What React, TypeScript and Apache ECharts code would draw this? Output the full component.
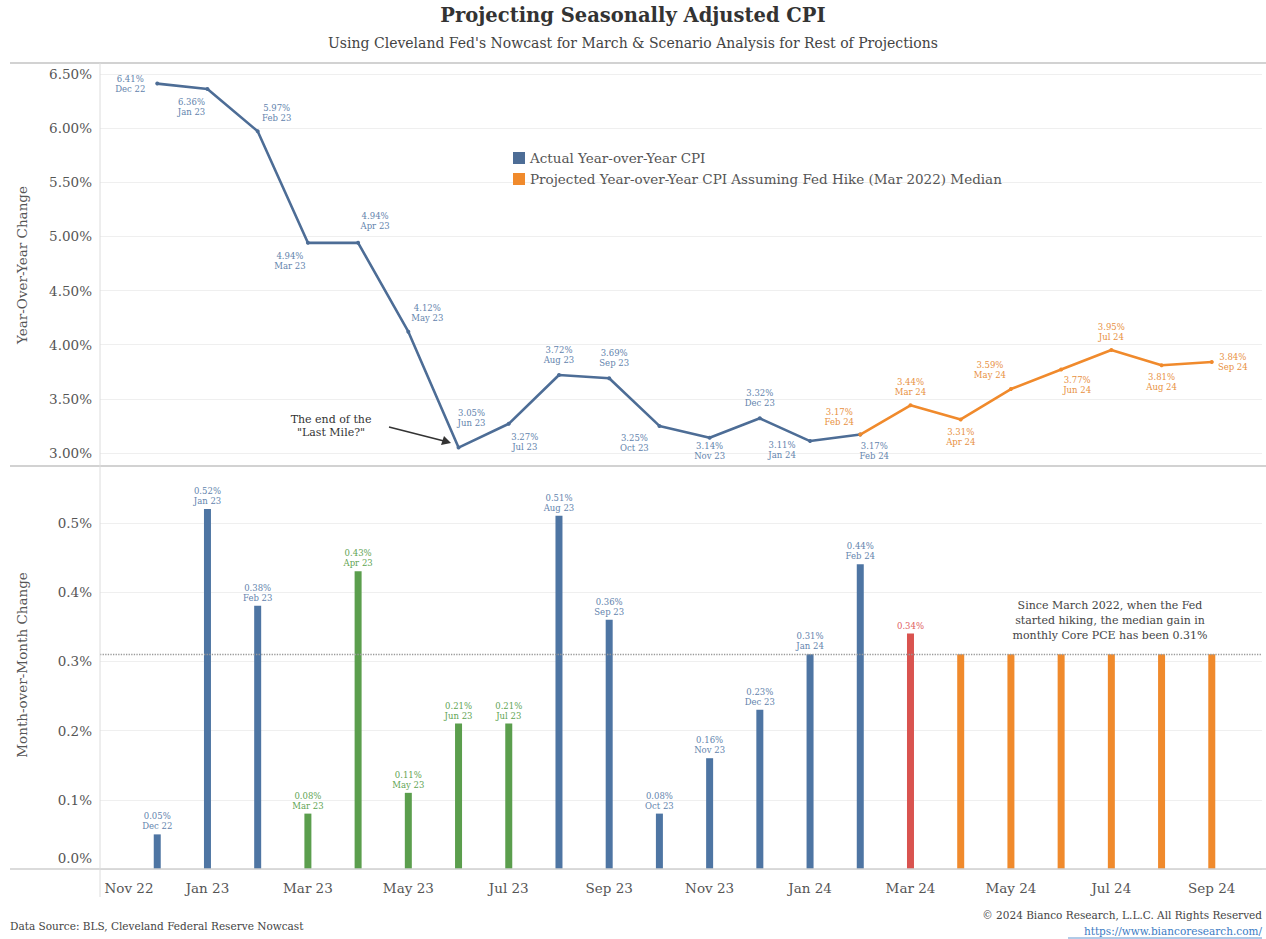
import React, { useEffect, useRef } from "react";
import * as echarts from "echarts";

// ---------- data ----------
// month index 0 = Nov 22 ... 22 = Sep 24
const months = [
  "Nov 22", "Dec 22", "Jan 23", "Feb 23", "Mar 23", "Apr 23", "May 23", "Jun 23",
  "Jul 23", "Aug 23", "Sep 23", "Oct 23", "Nov 23", "Dec 23", "Jan 24", "Feb 24",
  "Mar 24", "Apr 24", "May 24", "Jun 24", "Jul 24", "Aug 24", "Sep 24",
];
const axisTickMonths = [0, 2, 4, 6, 8, 10, 12, 14, 16, 18, 20, 22];

// Year-over-year CPI, actual: Dec 22 .. Feb 24
const yoyActualStart = 1;
const yoyActual = [6.41, 6.36, 5.97, 4.94, 4.94, 4.12, 3.05, 3.27, 3.72, 3.69, 3.25, 3.14, 3.32, 3.11, 3.17];
// Year-over-year CPI, projected: Feb 24 .. Sep 24
const yoyProjectedStart = 15;
const yoyProjected = [3.17, 3.44, 3.31, 3.59, 3.77, 3.95, 3.81, 3.84];

// Month-over-month change: Dec 22 .. Sep 24
const momStart = 1;
const momValues = [
  0.05, 0.52, 0.38, 0.08, 0.43, 0.11, 0.21, 0.21, 0.51, 0.36, 0.08, 0.16, 0.23, 0.31, 0.44,
  0.34, 0.31, 0.31, 0.31, 0.31, 0.31, 0.31,
];
const momKind = [
  "actual", "actual", "actual", "green", "green", "green", "green", "green", "actual", "actual",
  "actual", "actual", "actual", "actual", "actual", "nowcast", "projected", "projected",
  "projected", "projected", "projected", "projected",
];
const momMedian = 0.31;

// ---------- styling ----------
const FONT = "DejaVu Serif";
const BLUE_LINE = "#4d6d96";
const BLUE_LABEL = "#6384ad";
const ORANGE = "#f08a2c";
const ORANGE_LABEL = "#e8913f";
const kindColor: Record<string, string> = {
  actual: "#4e75a3",
  green: "#5b9e4d",
  nowcast: "#d9534f",
  projected: "#f08a2c",
};
const kindLabelColor: Record<string, string> = {
  actual: "#6384ad",
  green: "#62a453",
  nowcast: "#e06060",
  projected: "#f08a2c",
};
// label offsets (pixels) relative to each point
const yoyActualLabelOffset = [
  [-27, 0], [-16, 18], [19, -18], [-18, 18], [17, -22], [19, -19], [13, -30], [16, 18],
  [0, -20], [5, -20], [-25, 17], [0, 13], [0, -20], [-28, 9], [14, 16],
];
const yoyProjectedLabelOffset = [
  [-21, -18], [0, -18], [0, 18], [-21, -19], [16, 15], [0, -18], [0, 17], [21, 0],
];

export default function App() {
  const ref = useRef<HTMLDivElement>(null);

  useEffect(() => {
    if (!ref.current) return;
    const chart = echarts.init(ref.current, null, { renderer: "svg" });

    const lineLabel = (dx: number, dy: number, color: string) => ({
      show: true,
      position: "inside",
      offset: [dx, dy],
      align: "center",
      verticalAlign: "middle",
      fontFamily: FONT,
      fontSize: 8.5,
      lineHeight: 10,
      color,
      formatter: (p: any) => `${p.value[1].toFixed(2)}%\n${months[p.value[0]]}`,
    });

    const actualData = yoyActual.map((v, i) => ({
      value: [yoyActualStart + i, v],
      label: lineLabel(yoyActualLabelOffset[i][0], yoyActualLabelOffset[i][1], BLUE_LABEL),
    }));
    const projectedData = yoyProjected.map((v, i) => ({
      value: [yoyProjectedStart + i, v],
      label: lineLabel(yoyProjectedLabelOffset[i][0], yoyProjectedLabelOffset[i][1], ORANGE_LABEL),
    }));

    const barData = momValues.map((v, i) => {
      const kind = momKind[i];
      const idx = momStart + i;
      return {
        value: [idx, v],
        itemStyle: { color: kindColor[kind] },
        label: {
          show: kind !== "projected",
          position: "top",
          distance: 3,
          fontFamily: FONT,
          fontSize: 8.5,
          lineHeight: 10,
          color: kindLabelColor[kind],
          formatter: kind === "nowcast" ? `${v.toFixed(2)}%` : `${v.toFixed(2)}%\n${months[idx]}`,
        },
      };
    });

    const axisLabelStyle = { fontFamily: FONT, fontSize: 13.5, color: "#555" };

    const option: any = {
      animation: false,
      backgroundColor: "#ffffff",
      textStyle: { fontFamily: FONT },
      legend: {
        orient: "vertical",
        left: 508,
        top: 146,
        itemWidth: 12,
        itemHeight: 12,
        itemGap: 7,
        textStyle: { fontFamily: FONT, fontSize: 13.5, color: "#555" },
        data: [
          { name: "Actual Year-over-Year CPI", icon: "rect" },
          { name: "Projected Year-over-Year CPI Assuming Fed Hike (Mar 2022) Median", icon: "rect" },
        ],
      },
      grid: [
        { left: 100, right: 4, top: 63, bottom: 486 },
        { left: 100, right: 4, top: 466, bottom: 70 },
      ],
      xAxis: [
        { type: "value", gridIndex: 0, min: -0.14, max: 23, show: false },
        {
          type: "value",
          gridIndex: 1,
          min: -0.14,
          max: 23,
          axisLine: { show: false },
          axisTick: { show: false },
          splitLine: { show: false },
          axisLabel: {
            ...axisLabelStyle,
            margin: 12,
            customValues: axisTickMonths,
            formatter: (v: number) => {
              const i = Math.round(v);
              return i === 0 ? `{first|${months[i]}}` : months[i];
            },
            rich: {
              first: { ...axisLabelStyle, padding: [0, 0, 0, 44] },
            },
          },
        },
      ],
      yAxis: [
        {
          type: "value",
          gridIndex: 0,
          min: 3,
          max: 6.6,
          interval: 0.5,
          axisLine: { show: false },
          axisTick: { show: false },
          splitLine: { lineStyle: { color: "#efefef", width: 1 } },
          axisLabel: {
            ...axisLabelStyle,
            margin: 8,
            showMaxLabel: false,
            formatter: (v: number) => `${v.toFixed(2)}%`,
          },
        },
        {
          type: "value",
          gridIndex: 1,
          min: 0,
          max: 0.582,
          interval: 0.1,
          axisLine: { show: false },
          axisTick: { show: false },
          splitLine: { lineStyle: { color: "#efefef", width: 1 } },
          axisLabel: {
            ...axisLabelStyle,
            margin: 8,
            showMaxLabel: false,
            formatter: (v: number) => (v === 0 ? `{zero|${v.toFixed(1)}%}` : `${v.toFixed(1)}%`),
            rich: {
              zero: { ...axisLabelStyle, padding: [0, 0, 22, 0] },
            },
          },
        },
      ],
      series: [
        {
          name: "Actual Year-over-Year CPI",
          type: "line",
          xAxisIndex: 0,
          yAxisIndex: 0,
          data: actualData,
          color: BLUE_LINE,
          lineStyle: { color: BLUE_LINE, width: 2.6 },
          itemStyle: { color: BLUE_LINE },
          symbol: "circle",
          symbolSize: 4,
          showSymbol: true,
          z: 3,
        },
        {
          name: "Projected Year-over-Year CPI Assuming Fed Hike (Mar 2022) Median",
          type: "line",
          xAxisIndex: 0,
          yAxisIndex: 0,
          data: projectedData,
          color: ORANGE,
          lineStyle: { color: ORANGE, width: 2.6 },
          itemStyle: { color: ORANGE },
          symbol: "circle",
          symbolSize: 4,
          showSymbol: true,
          z: 3,
        },
        {
          name: "Month-over-Month Change",
          type: "bar",
          xAxisIndex: 1,
          yAxisIndex: 1,
          barWidth: 7,
          data: barData,
          markLine: {
            silent: true,
            symbol: "none",
            label: { show: false },
            lineStyle: { color: "#9a9a9a", type: "dotted", width: 1.3 },
            data: [{ yAxis: momMedian }],
          },
          z: 2,
        },
      ],
      graphic: [
        // title
        {
          type: "text",
          left: "center",
          top: 5,
          style: { text: "Projecting Seasonally Adjusted CPI", fontFamily: FONT, fontSize: 19.5, fontWeight: "bold", fill: "#333" },
        },
        {
          type: "text",
          left: "center",
          top: 36,
          style: {
            text: "Using Cleveland Fed's Nowcast for March & Scenario Analysis for Rest of Projections",
            fontFamily: FONT,
            fontSize: 14,
            fill: "#444",
          },
        },
        // frame lines
        { type: "line", shape: { x1: 10, y1: 63, x2: 1266, y2: 63 }, style: { stroke: "#d2d2d2", lineWidth: 2 }, z: 10 },
        { type: "line", shape: { x1: 10, y1: 466, x2: 1266, y2: 466 }, style: { stroke: "#d2d2d2", lineWidth: 2 }, z: 10 },
        { type: "line", shape: { x1: 10, y1: 869, x2: 1266, y2: 869 }, style: { stroke: "#cfcfcf", lineWidth: 1.5 }, z: 10 },
        { type: "line", shape: { x1: 100, y1: 63, x2: 100, y2: 897 }, style: { stroke: "#dcdcdc", lineWidth: 1 }, z: 10 },
        // axis names
        {
          type: "text",
          x: 22,
          y: 265,
          rotation: Math.PI / 2,
          style: { text: "Year-Over-Year Change", fontFamily: FONT, fontSize: 13.5, fill: "#555", align: "center", verticalAlign: "middle" },
        },
        {
          type: "text",
          x: 22,
          y: 665,
          rotation: Math.PI / 2,
          style: { text: "Month-over-Month Change", fontFamily: FONT, fontSize: 13.5, fill: "#555", align: "center", verticalAlign: "middle" },
        },
        // annotation
        {
          type: "text",
          x: 331,
          y: 426,
          style: {
            text: 'The end of the\n"Last Mile?"',
            fontFamily: FONT,
            fontSize: 11,
            lineHeight: 13,
            fill: "#333",
            align: "center",
            verticalAlign: "middle",
          },
        },
        { type: "line", shape: { x1: 389, y1: 427, x2: 444, y2: 441 }, style: { stroke: "#333", lineWidth: 1.6 } },
        { type: "polygon", shape: { points: [[451, 443], [441, 445], [444, 436]] }, style: { fill: "#333" } },
        // note
        {
          type: "text",
          x: 1110,
          y: 620,
          style: {
            text: "Since March 2022, when the Fed\nstarted hiking, the median gain in\nmonthly Core PCE has been 0.31%",
            fontFamily: FONT,
            fontSize: 11,
            lineHeight: 15,
            fill: "#444",
            align: "center",
            verticalAlign: "middle",
          },
        },
        // footers
        {
          type: "text",
          x: 10,
          y: 926,
          style: { text: "Data Source: BLS, Cleveland Federal Reserve Nowcast", fontFamily: FONT, fontSize: 10.5, fill: "#444", verticalAlign: "middle" },
        },
        {
          type: "text",
          x: 1262,
          y: 915,
          style: { text: "© 2024 Bianco Research, L.L.C. All Rights Reserved", fontFamily: FONT, fontSize: 10.5, fill: "#444", align: "right", verticalAlign: "middle" },
        },
        {
          type: "text",
          x: 1262,
          y: 931,
          style: { text: "https://www.biancoresearch.com/", fontFamily: FONT, fontSize: 10.5, fill: "#3b7cc4", align: "right", verticalAlign: "middle" },
        },
        { type: "line", shape: { x1: 1068, y1: 938, x2: 1262, y2: 938 }, style: { stroke: "#3b7cc4", lineWidth: 0.8 } },
      ],
    };

    chart.setOption(option);
    return () => chart.dispose();
  }, []);

  return (
    <div
      ref={ref}
      style={{ position: "absolute", left: 0, top: 0, width: 1266, height: 939, background: "#fff" }}
    />
  );
}
